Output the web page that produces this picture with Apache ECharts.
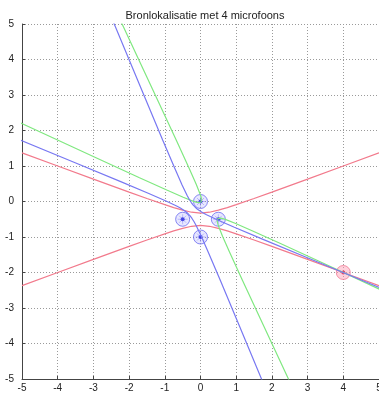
<!DOCTYPE html>
<html>
<head>
<meta charset="utf-8">
<script src="https://cdn.jsdelivr.net/npm/echarts@6/dist/echarts.min.js"></script>
<style>
html,body{margin:0;padding:0;background:#fff;}
#chart{width:379px;height:394px;}
</style>
</head>
<body>
<div id="chart"></div>
<script>
var titleText = 'Bronlokalisatie met 4 microfoons';
var axisTicks = [-5,-4,-3,-2,-1,0,1,2,3,4,5];

// Red hyperbola (mic pair (0,0)-(0,-1)), two branches
var redUpper = [[-5,1.371],[-4,1.000],[-3,0.631],[-2,0.265],[-1.5,0.085],[-1,-0.089],[-0.75,-0.171],[-0.5,-0.245],[-0.25,-0.302],[0,-0.326],[0.25,-0.302],[0.5,-0.245],[0.75,-0.171],[1,-0.089],[1.5,0.085],[2,0.265],[3,0.631],[4,1.000],[5,1.371]];
var redLower = [[-5,-2.371],[-4,-2.000],[-3,-1.631],[-2,-1.265],[-1.5,-1.085],[-1,-0.911],[-0.75,-0.829],[-0.5,-0.755],[-0.25,-0.698],[0,-0.674],[0.25,-0.698],[0.5,-0.755],[0.75,-0.829],[1,-0.911],[1.5,-1.085],[2,-1.265],[3,-1.631],[4,-2.000],[5,-2.371]];

// Blue hyperbola (mic pair (0,0)-(-0.5,-0.5))
var blueBranchA = [[-3.937,8.668],[-1.599,3.028],[-1.060,1.735],[-0.727,0.948],[-0.516,0.467],[-0.374,0.169],[-0.316,0.064],[-0.262,-0.022],[-0.210,-0.093],[-0.154,-0.154],[-0.093,-0.210],[-0.022,-0.262],[0.064,-0.316],[0.169,-0.374],[0.467,-0.516],[0.948,-0.727],[1.735,-1.060],[3.028,-1.599],[8.668,-3.937]];
var blueBranchB = [[-9.168,3.437],[-3.528,1.099],[-2.235,0.560],[-1.448,0.227],[-0.967,0.016],[-0.669,-0.126],[-0.564,-0.184],[-0.478,-0.238],[-0.407,-0.290],[-0.346,-0.346],[-0.290,-0.407],[-0.238,-0.478],[-0.184,-0.564],[-0.126,-0.669],[0.016,-0.967],[0.227,-1.448],[0.560,-2.235],[1.099,-3.528],[3.437,-9.168]];

// Green hyperbola (mic pair (0,0)-(0.5,-0.5))
var greenBranchA = [[4.322,-9.003],[1.755,-3.473],[1.171,-2.209],[0.822,-1.445],[0.620,-0.985],[0.512,-0.713],[0.484,-0.625],[0.470,-0.560],[0.471,-0.514],[0.485,-0.485],[0.514,-0.471],[0.560,-0.470],[0.625,-0.484],[0.713,-0.512],[0.985,-0.620],[1.445,-0.822],[2.209,-1.171],[3.473,-1.755],[9.003,-4.322]];
var greenBranchB = [[-3.822,8.503],[-1.255,2.973],[-0.671,1.709],[-0.322,0.945],[-0.120,0.485],[-0.012,0.213],[0.017,0.125],[0.030,0.060],[0.030,0.014],[0.015,-0.015],[-0.014,-0.030],[-0.060,-0.030],[-0.125,-0.017],[-0.213,0.012],[-0.485,0.120],[-0.945,0.322],[-1.709,0.671],[-2.973,1.255],[-8.503,3.822]];

// Microphones and source
var microphones = [[0,0],[-0.5,-0.5],[0.5,-0.5],[0,-1]];
var source = [[4,-2]];

var RED = '#f27a8c', BLUE = '#7878f2', GREEN = '#80e880';

function lineSeries(data, color) {
  return {
    type: 'line', data: data, showSymbol: false, symbol: 'none',
    clip: true, smooth: false, silent: true,
    lineStyle: { color: color, width: 1.2 }
  };
}

var chart = echarts.init(document.getElementById('chart'), null, { renderer: 'canvas' });
var axisCommon = {
  type: 'value', min: -5, max: 5, interval: 1,
  axisLine: { show: true, onZero: false, lineStyle: { color: '#444', width: 1 } },
  axisTick: { show: true, inside: true, length: 3, lineStyle: { color: '#444' } },
  splitLine: { show: true, lineStyle: { color: '#9a9a9a', type: [1, 2], width: 1 } },
  axisLabel: { fontFamily: 'Liberation Sans, Arial, sans-serif', fontSize: 10, color: '#222' }
};
chart.setOption({
  animation: false,
  backgroundColor: '#fff',
  title: {
    text: titleText, left: 200, textAlign: 'center', top: 5,
    textStyle: { fontFamily: 'Liberation Sans, Arial, sans-serif', fontSize: 11, fontWeight: 'normal', color: '#222' }
  },
  grid: { left: 22, right: 0, top: 24, bottom: 15, containLabel: false, outerBoundsMode: 'none' },
  xAxis: Object.assign({}, axisCommon, {
    axisLabel: Object.assign({}, axisCommon.axisLabel, { margin: 4, showMaxLabel: true,
      formatter: function (v) { return axisTicks.indexOf(v) >= 0 ? String(v) : ''; } })
  }),
  yAxis: Object.assign({}, axisCommon, {
    axisLabel: Object.assign({}, axisCommon.axisLabel, { margin: 8,
      formatter: function (v) { return axisTicks.indexOf(v) >= 0 ? String(v) : ''; } })
  }),
  series: [
    lineSeries(redUpper, RED),
    lineSeries(redLower, RED),
    lineSeries(greenBranchA, GREEN),
    lineSeries(greenBranchB, GREEN),
    lineSeries(blueBranchA, BLUE),
    lineSeries(blueBranchB, BLUE),
    {
      type: 'scatter', data: microphones, symbol: 'circle', symbolSize: 14, silent: true,
      itemStyle: { color: 'rgba(140,140,255,0.25)', borderColor: '#6a6af0', borderWidth: 1 }
    },
    {
      type: 'scatter', data: microphones, symbol: 'path://M0,-1L0,1M-1,0L1,0M-0.7,-0.7L0.7,0.7M-0.7,0.7L0.7,-0.7', symbolSize: 10, silent: true,
      itemStyle: { color: 'none', borderColor: 'rgba(110,110,240,0.5)', borderWidth: 1 }
    },
    {
      type: 'scatter', data: microphones, symbol: 'circle', symbolSize: 4, silent: true,
      itemStyle: { color: '#2a2ae0' }
    },
    {
      type: 'scatter', data: source, symbol: 'circle', symbolSize: 14, silent: true,
      itemStyle: { color: 'rgba(255,150,175,0.55)', borderColor: '#f07a95', borderWidth: 1 }
    },
    {
      type: 'scatter', data: source, symbol: 'circle', symbolSize: 4, silent: true,
      itemStyle: { color: '#e02050' }
    }
  ]
});
</script>
</body>
</html>
